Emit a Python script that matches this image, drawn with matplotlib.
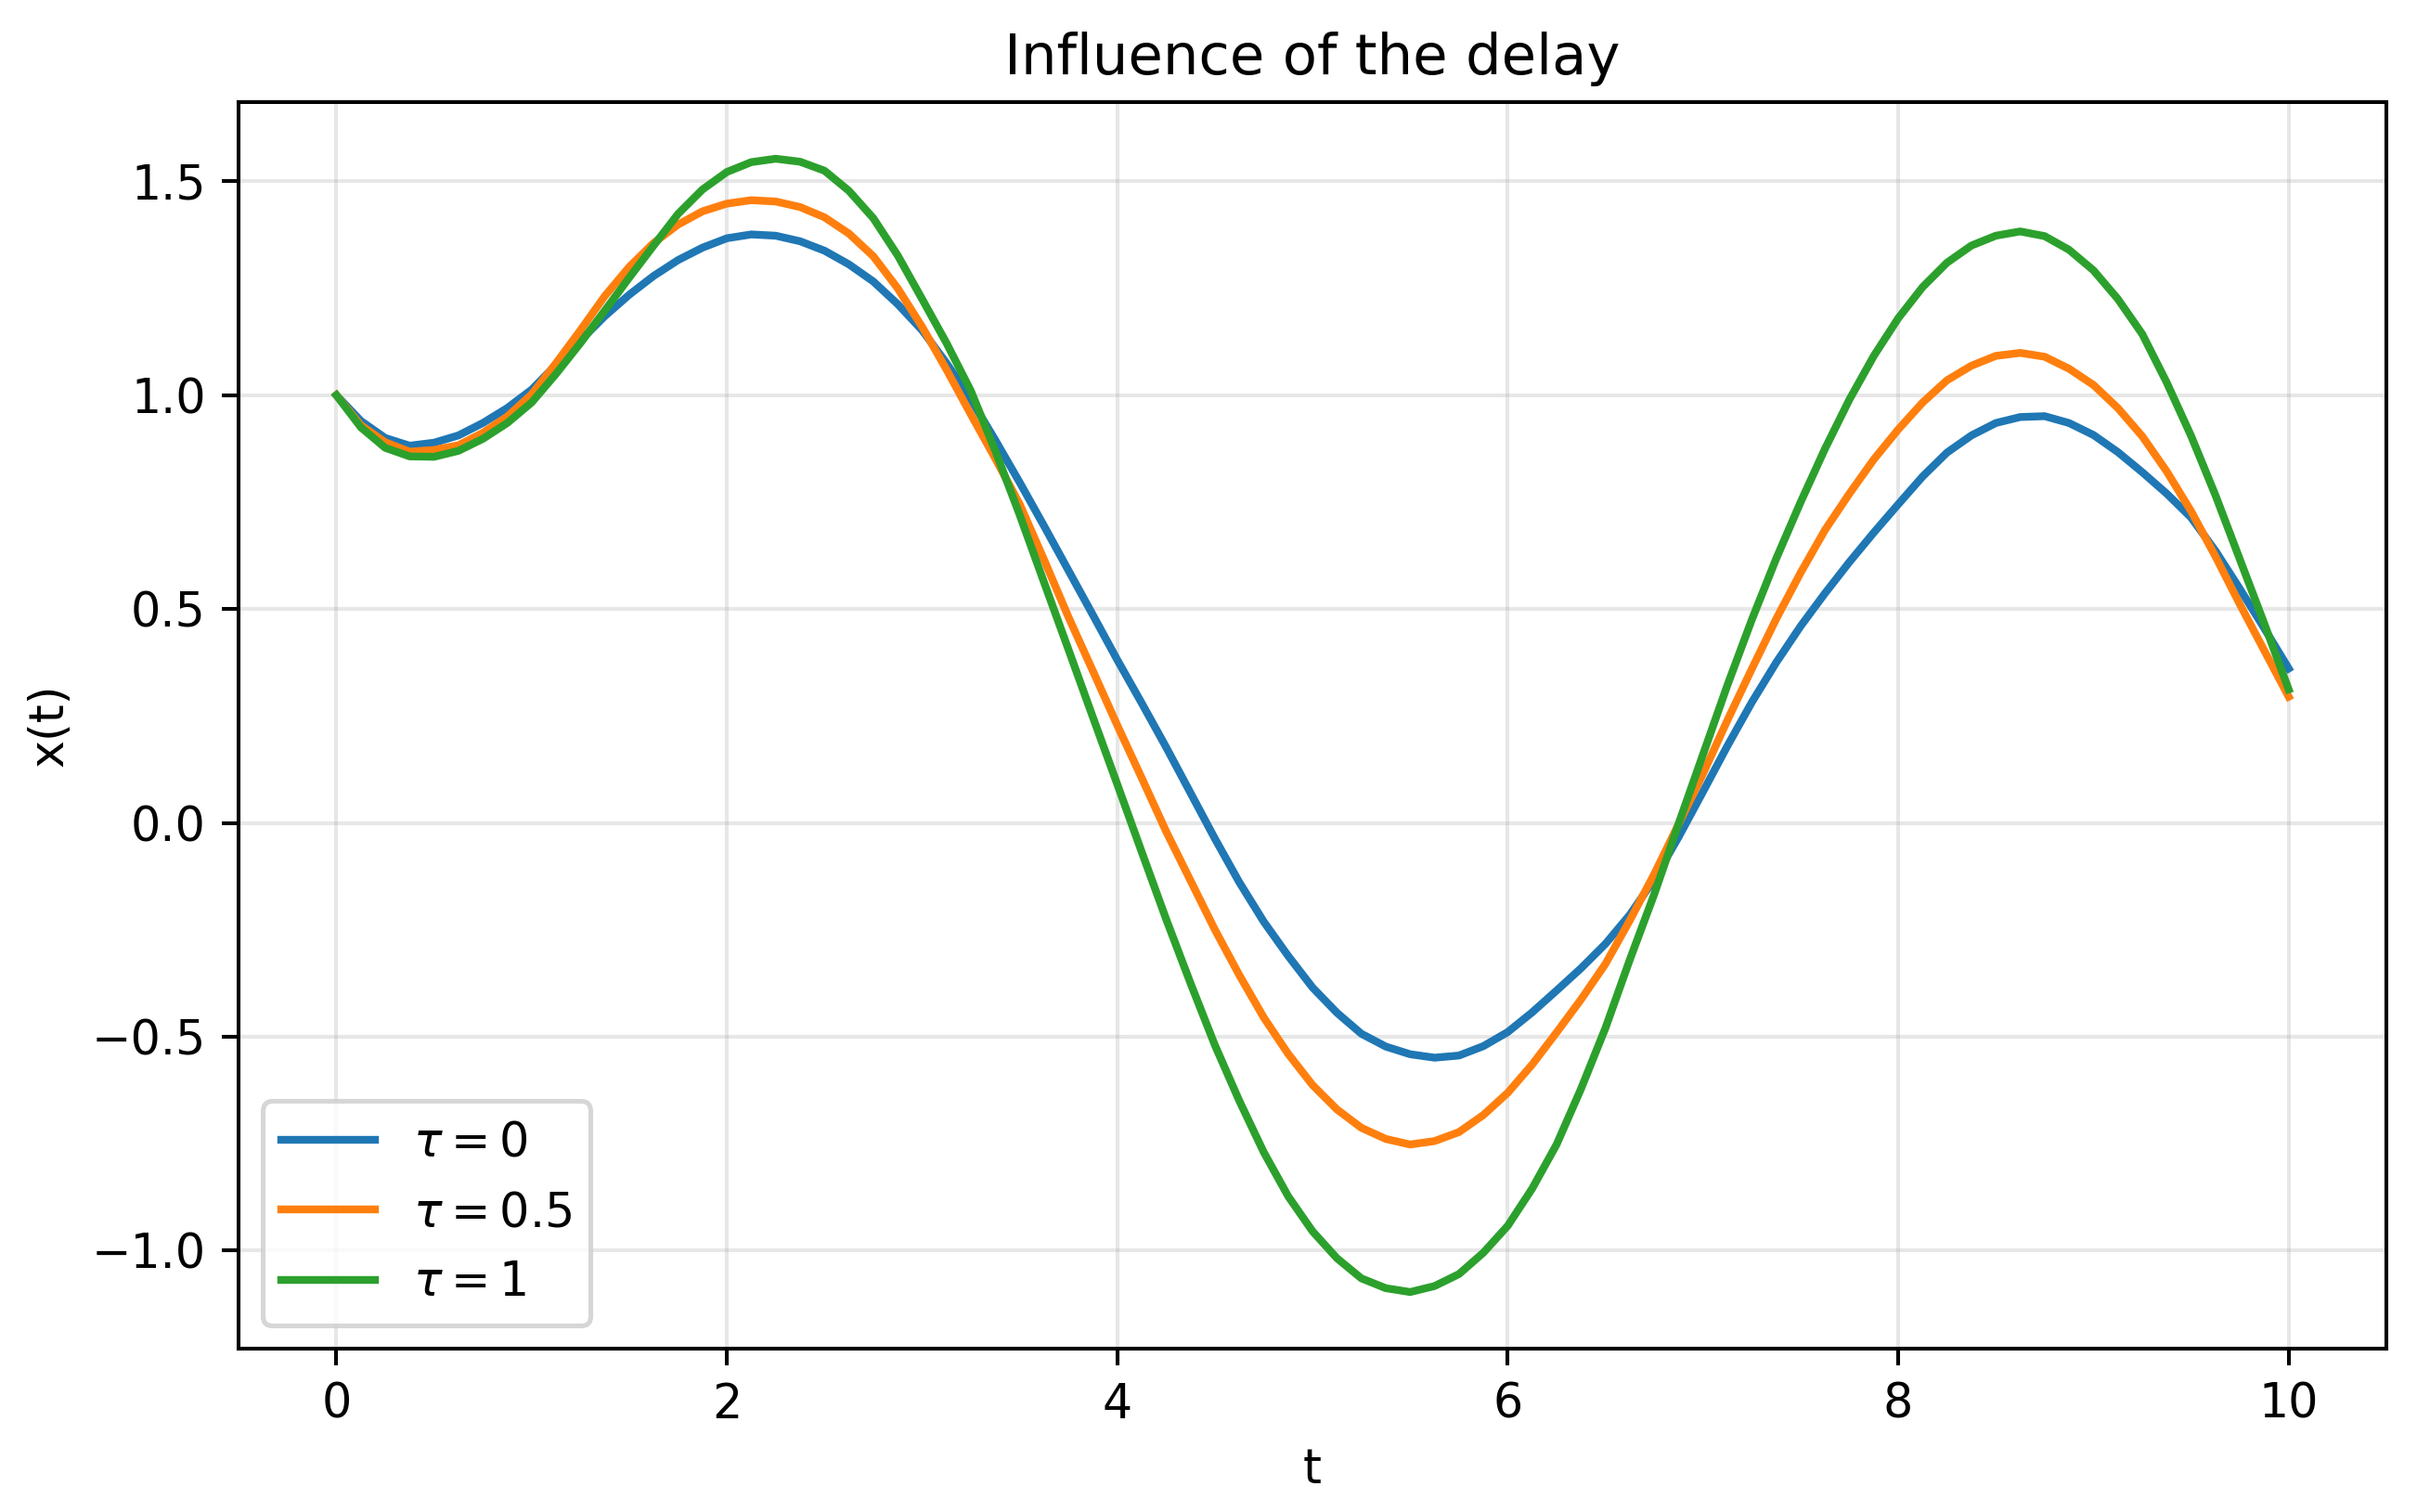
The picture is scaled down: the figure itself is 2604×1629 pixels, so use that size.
import matplotlib
matplotlib.use("Agg")
import matplotlib.pyplot as plt
import numpy as np

t = np.arange(0, 10.001, 0.125)

x_tau0 = [
    1.000, 0.940, 0.900, 0.882, 0.889, 0.906, 0.935, 0.970,
    1.013, 1.071, 1.128, 1.185, 1.235, 1.279, 1.316, 1.345,
    1.367, 1.376, 1.373, 1.360, 1.338, 1.306, 1.266, 1.213,
    1.152, 1.075, 0.990, 0.895, 0.796, 0.694, 0.590, 0.486,
    0.381, 0.280, 0.177, 0.070, -0.037, -0.139, -0.231, -0.311,
    -0.385, -0.444, -0.493, -0.523, -0.541, -0.549, -0.544, -0.522,
    -0.489, -0.443, -0.392, -0.340, -0.283, -0.215, -0.132, -0.033,
    0.073, 0.180, 0.282, 0.375, 0.460, 0.537, 0.610, 0.679,
    0.745, 0.810, 0.866, 0.906, 0.935, 0.949, 0.951, 0.935,
    0.907, 0.867, 0.820, 0.770, 0.714, 0.636, 0.547, 0.455,
    0.361,
]
x_tau05 = [
    1.000, 0.930, 0.890, 0.868, 0.872, 0.883, 0.912, 0.950,
    1.002, 1.075, 1.152, 1.232, 1.300, 1.356, 1.399, 1.430,
    1.448, 1.456, 1.453, 1.440, 1.416, 1.378, 1.325, 1.250,
    1.160, 1.060, 0.955, 0.852, 0.745, 0.615, 0.481, 0.355,
    0.228, 0.105, -0.020, -0.135, -0.250, -0.356, -0.455, -0.540,
    -0.613, -0.670, -0.713, -0.739, -0.752, -0.744, -0.723, -0.683,
    -0.631, -0.565, -0.490, -0.413, -0.330, -0.228, -0.120, -0.003,
    0.115, 0.240, 0.360, 0.477, 0.585, 0.685, 0.770, 0.850,
    0.920, 0.983, 1.035, 1.069, 1.092, 1.099, 1.090, 1.062,
    1.024, 0.970, 0.904, 0.822, 0.729, 0.623, 0.511, 0.403,
    0.295,
]
x_tau1 = [
    1.000, 0.925, 0.877, 0.857, 0.856, 0.870, 0.898, 0.935,
    0.983, 1.050, 1.122, 1.198, 1.275, 1.350, 1.424, 1.481,
    1.522, 1.545, 1.553, 1.546, 1.525, 1.478, 1.414, 1.327,
    1.225, 1.122, 1.010, 0.870, 0.720, 0.562, 0.405, 0.247,
    0.090, -0.068, -0.225, -0.375, -0.520, -0.650, -0.770, -0.873,
    -0.955, -1.018, -1.065, -1.088, -1.097, -1.083, -1.055, -1.005,
    -0.942, -0.855, -0.752, -0.622, -0.480, -0.320, -0.167, -0.002,
    0.160, 0.322, 0.475, 0.618, 0.750, 0.875, 0.990, 1.092,
    1.180, 1.253, 1.310, 1.350, 1.373, 1.383, 1.372, 1.340,
    1.292, 1.225, 1.143, 1.030, 0.905, 0.766, 0.616, 0.466,
    0.312,
]
series = [(x_tau0, r"$\tau = 0$"), (x_tau05, r"$\tau = 0.5$"), (x_tau1, r"$\tau = 1$")]

dpi = 365
fig, ax = plt.subplots(figsize=(2604 / dpi, 1629 / dpi), dpi=dpi)
for vals, label in series:
    ax.plot(t, vals, lw=1.65, label=label)

ax.set_title("Influence of the delay")
ax.set_xlabel("t")
ax.set_ylabel("x(t)")
ax.grid(True, alpha=0.3)
ax.legend(loc="lower left")

fig.subplots_adjust(left=0.0988, right=0.9873, bottom=0.108, top=0.9325)
fig.savefig("out.png", dpi=dpi)
